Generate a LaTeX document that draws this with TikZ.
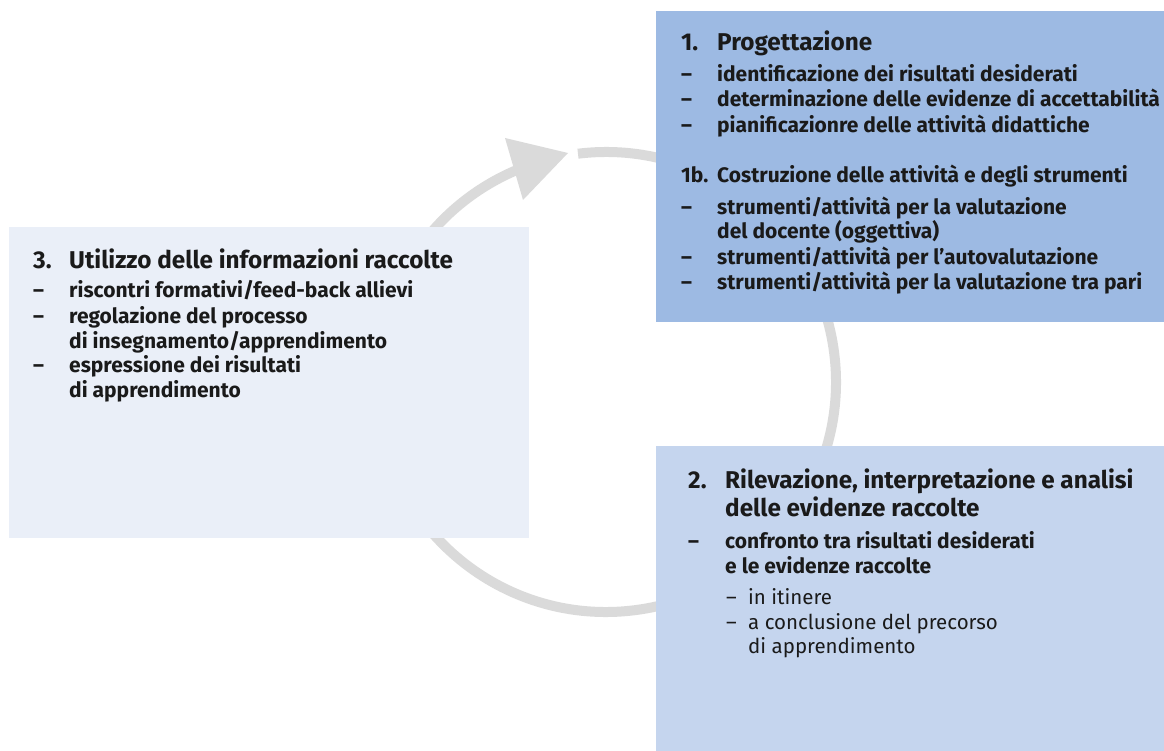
\documentclass[tikz,border=0pt]{standalone}
\usepackage{fontspec}
\setmainfont{Fira Sans}
\definecolor{boxA}{HTML}{9DBAE3}
\definecolor{boxB}{HTML}{C5D5EE}
\definecolor{boxC}{HTML}{EAEFF8}
\definecolor{ring}{HTML}{DADADA}
\definecolor{ink}{HTML}{1A1A1A}
\tikzset{
  panel/.style={anchor=north west, inner sep=0pt, outer sep=0pt, draw=none},
  hd/.style={anchor=base west, inner sep=0pt, text=ink, font=\fontsize{24.3}{28}\selectfont\bfseries},
  bd/.style={anchor=base west, inner sep=0pt, text=ink, font=\fontsize{21}{25}\selectfont\bfseries},
  sb/.style={anchor=base west, inner sep=0pt, text=ink, font=\fontsize{20.5}{25}\selectfont},
  ringline/.style={draw=ring, line width=10pt, line cap=butt}
}
\begin{document}
\begin{tikzpicture}[x=1pt,y=-1pt]
\useasboundingbox (0,0) rectangle (1164,751);
% cycle ring
\coordinate (c) at (606,382);
\draw[ringline] (c) ++(-97:230) arc[start angle=-97, end angle=247, radius=230];
\fill[ring] (505,138) -- (568,153) -- (523,200) -- cycle;
% panels
\node[panel, fill=boxA, minimum width=508pt, minimum height=310.5pt] (b1) at (656,11) {};
\node[panel, fill=boxB, minimum width=508pt, minimum height=305pt] (b2) at (656,446) {};
\node[panel, fill=boxC, minimum width=520pt, minimum height=311pt] (b3) at (9,227) {};
% box 1
\node[hd] (n1) at (681,51) {1.};
\node[hd] (t1) at (717,51) {Progettazione};
\node[bd] (d11) at (681,82) {–};
\node[bd] (l11) at (717,82) {identificazione dei risultati desiderati};
\node[bd] (d12) at (681,107) {–};
\node[bd] (l12) at (717,107) {determinazione delle evidenze di accettabilità};
\node[bd] (d13) at (681,132.3) {–};
\node[bd] (l13) at (717,132.3) {pianificazionre delle attività didattiche};
\node[bd] (n1b) at (681,182.3) {1b.};
\node[bd] (t1b) at (717,182.3) {Costruzione delle attività e degli strumenti};
\node[bd] (d14) at (681,214.3) {–};
\node[bd] (l14) at (717,214.3) {strumenti/attività per la valutazione};
\node[bd] (l14b) at (717,239) {del docente (oggettiva)};
\node[bd] (d15) at (681,264.3) {–};
\node[bd] (l15) at (717,264.3) {strumenti/attività per l’autovalutazione};
\node[bd] (d16) at (681,289) {–};
\node[bd] (l16) at (717,289) {strumenti/attività per la valutazione tra pari};
% box 3
\node[hd] (n3) at (33,268.3) {3.};
\node[hd] (t3) at (69,268.3) {Utilizzo delle informazioni raccolte};
\node[bd] (d31) at (33,298) {–};
\node[bd] (l31) at (69,298) {riscontri formativi/feed-back allievi};
\node[bd] (d32) at (33,323) {–};
\node[bd] (l32) at (69,323) {regolazione del processo};
\node[bd] (l32b) at (69,348) {di insegnamento/apprendimento};
\node[bd] (d33) at (33,372.5) {–};
\node[bd] (l33) at (69,372.5) {espressione dei risultati};
\node[bd] (l33b) at (69,397) {di apprendimento};
% box 2
\node[hd] (n2) at (688,488.3) {2.};
\node[hd] (t2) at (725,488.3) {Rilevazione, interpretazione e analisi};
\node[hd] (t2b) at (725,516.7) {delle evidenze raccolte};
\node[bd] (d21) at (688,548.3) {–};
\node[bd] (l21) at (725,548.3) {confronto tra risultati desiderati};
\node[bd] (l21b) at (725,573.3) {e le evidenze raccolte};
\node[sb] (s21) at (726,604) {–};
\node[sb] (m21) at (748,604) {in itinere};
\node[sb] (s22) at (726,629.3) {–};
\node[sb] (m22) at (748,629.3) {a conclusione del precorso};
\node[sb] (m22b) at (748,653.3) {di apprendimento};
\end{tikzpicture}
\end{document}
